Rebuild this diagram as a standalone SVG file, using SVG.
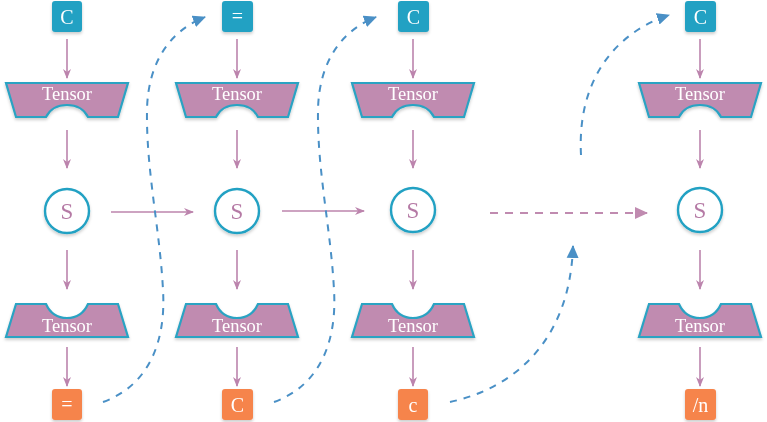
<svg xmlns="http://www.w3.org/2000/svg" width="767" height="422" viewBox="0 0 767 422">
<defs>
<style>
.tb{fill:#22a1c3}
.ob{fill:#f6844b}
.bt{font-family:"Liberation Serif",serif;font-size:20px;fill:#fff;text-anchor:middle}
.tz{fill:#c08bb0;stroke:#2aa3c3;stroke-width:2.2;stroke-linejoin:miter}
.tt{font-family:"Liberation Serif",serif;font-size:18.5px;fill:#fff;text-anchor:middle}
.sc{fill:#fff;stroke:#22a1c3;stroke-width:2.4}
.st{font-family:"Liberation Serif",serif;font-size:23px;fill:#b57aa5;text-anchor:middle}
.pl{fill:none;stroke:#bc84ad;stroke-width:1.6}
.pd{fill:none;stroke:#c08bb0;stroke-width:2;stroke-dasharray:8 7}
.bd{fill:none;stroke:#4a90c6;stroke-width:2;stroke-dasharray:7 7}
</style>
<marker id="pa" markerWidth="10" markerHeight="10" refX="9" refY="5" orient="auto" markerUnits="userSpaceOnUse">
<path d="M0,1 L10,5 L0,9 L3,5 Z" fill="#bc84ad"/>
</marker>
<marker id="pb" markerWidth="14" markerHeight="14" refX="12" refY="7" orient="auto" markerUnits="userSpaceOnUse">
<path d="M0,1 L13,7 L0,13 Z" fill="#c08bb0"/>
</marker>
<marker id="ba" markerWidth="14" markerHeight="14" refX="12" refY="7" orient="auto" markerUnits="userSpaceOnUse">
<path d="M0,1 L13,7 L0,13 Z" fill="#4a90c6"/>
</marker>
<filter id="sh" x="-20%" y="-20%" width="140%" height="150%">
<feDropShadow dx="0" dy="2" stdDeviation="1.5" flood-color="#000" flood-opacity="0.2"/>
</filter>
</defs>
<rect width="767" height="422" fill="#fff"/>

<g id="connectors">
<line class="pl" x1="67" y1="39" x2="67" y2="78" marker-end="url(#pa)"/>
<line class="pl" x1="67" y1="130" x2="67" y2="168" marker-end="url(#pa)"/>
<line class="pl" x1="67" y1="250" x2="67" y2="289" marker-end="url(#pa)"/>
<line class="pl" x1="67" y1="347" x2="67" y2="386" marker-end="url(#pa)"/>
<line class="pl" x1="237" y1="39" x2="237" y2="78" marker-end="url(#pa)"/>
<line class="pl" x1="237" y1="130" x2="237" y2="168" marker-end="url(#pa)"/>
<line class="pl" x1="237" y1="250" x2="237" y2="289" marker-end="url(#pa)"/>
<line class="pl" x1="237" y1="347" x2="237" y2="386" marker-end="url(#pa)"/>
<line class="pl" x1="413" y1="39" x2="413" y2="78" marker-end="url(#pa)"/>
<line class="pl" x1="413" y1="130" x2="413" y2="168" marker-end="url(#pa)"/>
<line class="pl" x1="413" y1="250" x2="413" y2="289" marker-end="url(#pa)"/>
<line class="pl" x1="413" y1="347" x2="413" y2="386" marker-end="url(#pa)"/>
<line class="pl" x1="700" y1="39" x2="700" y2="78" marker-end="url(#pa)"/>
<line class="pl" x1="700" y1="130" x2="700" y2="168" marker-end="url(#pa)"/>
<line class="pl" x1="700" y1="250" x2="700" y2="289" marker-end="url(#pa)"/>
<line class="pl" x1="700" y1="347" x2="700" y2="386" marker-end="url(#pa)"/>
<line class="pl" x1="111" y1="212" x2="193" y2="212" marker-end="url(#pa)"/>
<line class="pl" x1="282" y1="211" x2="364" y2="211" marker-end="url(#pa)"/>
<line class="pd" x1="490" y1="213" x2="647" y2="213" marker-end="url(#pb)"/>
<path class="bd" d="M103,402 C150,385 166,340 163,290 C160,230 146,170 147,110 C148,60 172,30 205,17" marker-end="url(#ba)"/>
<path class="bd" d="M274,402 C321,385 337,340 334,290 C331,230 317,170 318,110 C319,60 343,30 376,17" marker-end="url(#ba)"/>
<path class="bd" d="M450,402 C515,388 570,340 573,246" marker-end="url(#ba)"/>
<path class="bd" d="M581,155 C577,80 615,33 669,15" marker-end="url(#ba)"/>
</g>

<g id="top-c1" filter="url(#sh)"><rect class="tb" x="52" y="1" width="30" height="31" rx="3"/><text class="bt" x="67" y="23.5">C</text></g>
<g id="top-eq2" filter="url(#sh)"><rect class="tb" x="222" y="1" width="31" height="31" rx="3"/><text class="bt" x="237.5" y="23">=</text></g>
<g id="top-c3" filter="url(#sh)"><rect class="tb" x="398" y="1" width="31" height="31" rx="3"/><text class="bt" x="413.5" y="23.5">C</text></g>
<g id="top-c4" filter="url(#sh)"><rect class="tb" x="685" y="1" width="31" height="31" rx="3"/><text class="bt" x="700.5" y="23.5">C</text></g>

<g id="tensor-top1" filter="url(#sh)"><path class="tz" d="M6,83 L128,83 L118,117 L88,117 C84,109 77,105 67,105 C57,105 50,109 46,117 L16,117 Z"/><text class="tt" x="67" y="100">Tensor</text></g>
<g id="tensor-top2" filter="url(#sh)"><path class="tz" d="M176,83 L298,83 L288,117 L258,117 C254,109 247,105 237,105 C227,105 220,109 216,117 L186,117 Z"/><text class="tt" x="237" y="100">Tensor</text></g>
<g id="tensor-top3" filter="url(#sh)"><path class="tz" d="M352,83 L474,83 L464,117 L434,117 C430,109 423,105 413,105 C403,105 396,109 392,117 L362,117 Z"/><text class="tt" x="413" y="100">Tensor</text></g>
<g id="tensor-top4" filter="url(#sh)"><path class="tz" d="M639,83 L761,83 L751,117 L721,117 C717,109 710,105 700,105 C690,105 683,109 679,117 L649,117 Z"/><text class="tt" x="700" y="100">Tensor</text></g>

<g id="s1" filter="url(#sh)"><circle class="sc" cx="67" cy="211" r="22"/><text class="st" x="67" y="219">S</text></g>
<g id="s2" filter="url(#sh)"><circle class="sc" cx="237" cy="211" r="22"/><text class="st" x="237" y="219">S</text></g>
<g id="s3" filter="url(#sh)"><circle class="sc" cx="413" cy="210" r="22"/><text class="st" x="413" y="218">S</text></g>
<g id="s4" filter="url(#sh)"><circle class="sc" cx="700" cy="210" r="22"/><text class="st" x="700" y="218">S</text></g>

<g id="tensor-bot1" filter="url(#sh)"><path class="tz" d="M16,304 L46,304 C50,313 57,318 67,318 C77,318 84,313 88,304 L118,304 L128,337 L6,337 Z"/><text class="tt" x="67" y="332">Tensor</text></g>
<g id="tensor-bot2" filter="url(#sh)"><path class="tz" d="M186,304 L216,304 C220,313 227,318 237,318 C247,318 254,313 258,304 L288,304 L298,337 L176,337 Z"/><text class="tt" x="237" y="332">Tensor</text></g>
<g id="tensor-bot3" filter="url(#sh)"><path class="tz" d="M362,304 L392,304 C396,313 403,318 413,318 C423,318 430,313 434,304 L464,304 L474,337 L352,337 Z"/><text class="tt" x="413" y="332">Tensor</text></g>
<g id="tensor-bot4" filter="url(#sh)"><path class="tz" d="M649,304 L679,304 C683,313 690,318 700,318 C710,318 717,313 721,304 L751,304 L761,337 L639,337 Z"/><text class="tt" x="700" y="332">Tensor</text></g>

<g id="out-eq1" filter="url(#sh)"><rect class="ob" x="52" y="389" width="30" height="31" rx="3"/><text class="bt" x="67" y="411">=</text></g>
<g id="out-c2" filter="url(#sh)"><rect class="ob" x="222" y="389" width="31" height="31" rx="3"/><text class="bt" x="237.5" y="411.5">C</text></g>
<g id="out-c3" filter="url(#sh)"><rect class="ob" x="398" y="389" width="30" height="31" rx="3"/><text class="bt" x="413" y="411.5">c</text></g>
<g id="out-n4" filter="url(#sh)"><rect class="ob" x="685" y="389" width="31" height="31" rx="3"/><text class="bt" x="700.5" y="411.5">/n</text></g>
</svg>
